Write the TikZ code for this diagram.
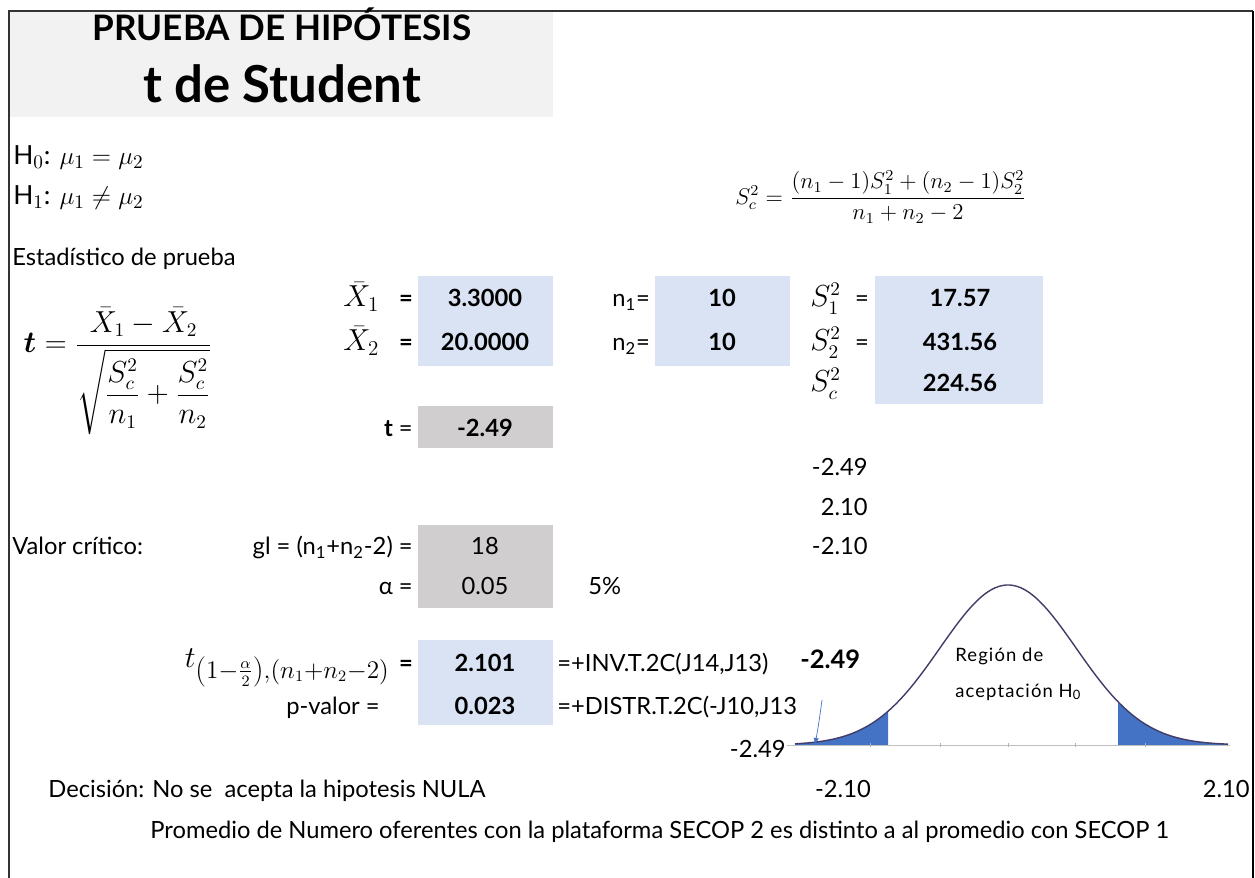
\documentclass[tikz,border=0pt]{standalone}
\usepackage{amsmath,amssymb}
\usepackage{fontspec}
\setmainfont{Lato}
\usepackage{tikz}
\usetikzlibrary{arrows,calc}
\usepackage{xcolor}

\definecolor{titlegray}{RGB}{242,242,242}
\definecolor{cellblue}{RGB}{218,227,243}
\definecolor{cellgray}{RGB}{208,206,206}
\definecolor{tailblue}{RGB}{68,114,196}
\definecolor{curveline}{RGB}{64,62,104}

\tikzset{
    txt/.style={anchor=base west, inner sep=0pt, font=\fontsize{13.5}{16}\selectfont},
    txtr/.style={anchor=base east, inner sep=0pt, font=\fontsize{13.5}{16}\selectfont},
    txtc/.style={anchor=base, inner sep=0pt, font=\fontsize{13.5}{16}\selectfont},
    val/.style={anchor=base, inner sep=0pt, font=\fontsize{13.5}{16}\selectfont\bfseries},
    mth/.style={inner sep=0pt, font=\fontsize{16}{19}\selectfont},
}

\begin{document}
\begin{tikzpicture}[x=0.02cm, y=-0.02cm]
    \useasboundingbox (0,0) rectangle (1255,878);

    % title block and frame
    \fill[titlegray] (10,12) rectangle (553,117);
    \draw[line width=0.8pt, black!80] (9,878) -- (9,11) -- (1253,11);
    \draw[line width=1.2pt] (1253,11) -- (1253,878);
    \node[anchor=base, font=\fontsize{20}{24}\selectfont\bfseries] (title) at (282,41) {PRUEBA DE HIPÓTESIS};
    \node[anchor=base, font=\fontsize{29}{34}\selectfont\bfseries] (subtitle) at (282,103) {t de Student};

    % hypotheses
    \node[txt, font=\fontsize{15}{18}\selectfont] (hnull) at (13,165) {H$_0$: $\mu_1 = \mu_2$};
    \node[txt, font=\fontsize{15}{18}\selectfont] (halt) at (13,205) {H$_1$: $\mu_1 \neq \mu_2$};
    \node[mth, font=\fontsize{12}{14}\selectfont, scale=1.08] (scform) at (881,197) {$S_c^2 = \dfrac{(n_1-1)S_1^2+(n_2-1)S_2^2}{n_1+n_2-2}$};

    % test statistic
    \node[txt] (estlabel) at (12,266) {Estadístico de prueba};
    \node[mth, font=\fontsize{16}{19}\selectfont] (tform) at (118,371) {$\boldsymbol{t} = \dfrac{\bar{X}_1-\bar{X}_2}{\sqrt{\dfrac{S_c^2}{n_1}+\dfrac{S_c^2}{n_2}}}$};

    % cells
    \fill[cellblue] (418,276) rectangle (553,366);
    \fill[cellblue] (655,276) rectangle (790,366);
    \fill[cellblue] (875,276) rectangle (1043,404);
    \fill[cellgray] (418,406) rectangle (553,448);
    \fill[cellgray] (418,525) rectangle (553,608);
    \fill[cellblue] (418,640) rectangle (553,725);

    % sample values
    \node[mth, anchor=base west, font=\fontsize{18}{21}\selectfont] (xbar1) at (343,307) {$\bar{X}_1$};
    \node[mth, anchor=base west, font=\fontsize{18}{21}\selectfont] (xbar2) at (343,351) {$\bar{X}_2$};
    \node[val] (eqa) at (406,307) {=};
    \node[val] (eqb) at (406,351) {=};
    \node[val] (mean1) at (485,307) {3.3000};
    \node[val] (mean2) at (485,351) {20.0000};
    \node[txt] (nlab1) at (612,307) {n\textsubscript{1}=};
    \node[txt] (nlab2) at (612,351) {n\textsubscript{2}=};
    \node[val] (nval1) at (722,307) {10};
    \node[val] (nval2) at (722,351) {10};
    \node[mth, anchor=base west] (slab1) at (810,307) {$S_1^2$};
    \node[mth, anchor=base west] (slab2) at (810,351) {$S_2^2$};
    \node[mth, anchor=base west] (slabc) at (810,392) {$S_c^2$};
    \node[txtc] (eqc) at (862,307) {=};
    \node[txtc] (eqd) at (862,351) {=};
    \node[val] (svar1) at (960,307) {17.57};
    \node[val] (svar2) at (960,351) {431.56};
    \node[val] (svarc) at (960,392) {224.56};

    % t value
    \node[txtr] (tlab) at (413,437) {\textbf{t} =};
    \node[val] (tval) at (485,437) {-2.49};
    \node[txtr] (chk1) at (868,476) {-2.49};
    \node[txtr] (chk2) at (868,516) {2.10};
    \node[txtr] (chk3) at (868,555) {-2.10};

    % critical value
    \node[txt] (critlab) at (12,555) {Valor crítico:};
    \node[txtr] (gllab) at (413,555) {gl = (n\textsubscript{1}+n\textsubscript{2}-2) =};
    \node[txtc] (glval) at (485,555) {18};
    \node[txtr] (alab) at (413,595) {α =};
    \node[txtc] (aval) at (485,595) {0.05};
    \node[txt] (apct) at (588,595) {5\%};
    \node[mth, anchor=base east, font=\fontsize{19}{22}\selectfont] (tcrit) at (390,667) {$t_{\left(1-\frac{\alpha}{2}\right),(n_1+n_2-2)}$};
    \node[val] (eqe) at (406,671) {=};
    \node[val] (critval) at (485,671) {2.101};
    \node[txtr] (plab) at (380,714) {p-valor =};
    \node[val] (pval) at (485,714) {0.023};
    \node[txt] (fml1) at (557,671) {=+INV.T.2C(J14,J13)};
    \node[txt] (fml2) at (557,714) {=+DISTR.T.2C(-J10,J13};
    \node[txt, font=\fontsize{14.5}{17}\selectfont\bfseries] (tmark) at (800,668) {-2.49};

    % t distribution with rejection tails
    \fill[tailblue] (795,745) -- plot[domain=795:888, samples=40] (\x,{745-160*exp(-((\x-1008)/68)*((\x-1008)/68)/2)}) -- (888,745) -- cycle;
    \fill[tailblue] (1118,745) -- plot[domain=1118:1228, samples=40] (\x,{745-160*exp(-((\x-1008)/68)*((\x-1008)/68)/2)}) -- (1228,745) -- cycle;
    \draw[gray!50] (787,745) -- (1230,745);
    \foreach \t in {870,940,1008,1075,1145} {
        \draw[gray!60] (\t,743) -- (\t,747);
    }
    \draw[curveline, line width=0.8pt, domain=795:1228, samples=120] plot (\x,{745-160*exp(-((\x-1008)/68)*((\x-1008)/68)/2)});
    \node[txt, font=\fontsize{10.5}{12}\selectfont\addfontfeature{LetterSpace=6}] (region1) at (955,662) {Región de};
    \node[txt, font=\fontsize{10.5}{12}\selectfont\addfontfeature{LetterSpace=6}] (region2) at (955,697) {aceptación H\textsubscript{0}};

    % arrow to observed t
    \coordinate (arrtail) at (822,700);
    \coordinate (arrhead) at (815,745);
    \draw[tailblue, -latex] (arrtail) .. controls (819,722) .. (arrhead);
    \node[txtr] (tobs) at (786,757) {-2.49};
    \node[txtc] (lcrit) at (843,797) {-2.10};
    \node[txtr] (rcrit) at (1250,797) {2.10};

    % decision
    \node[txt] (decision) at (48,797) {Decisión: No se\ \ acepta la hipotesis NULA};
    \node[txt] (concl) at (150,838) {Promedio de Numero oferentes con la plataforma SECOP 2 es distinto a al promedio con SECOP 1};
\end{tikzpicture}
\end{document}
